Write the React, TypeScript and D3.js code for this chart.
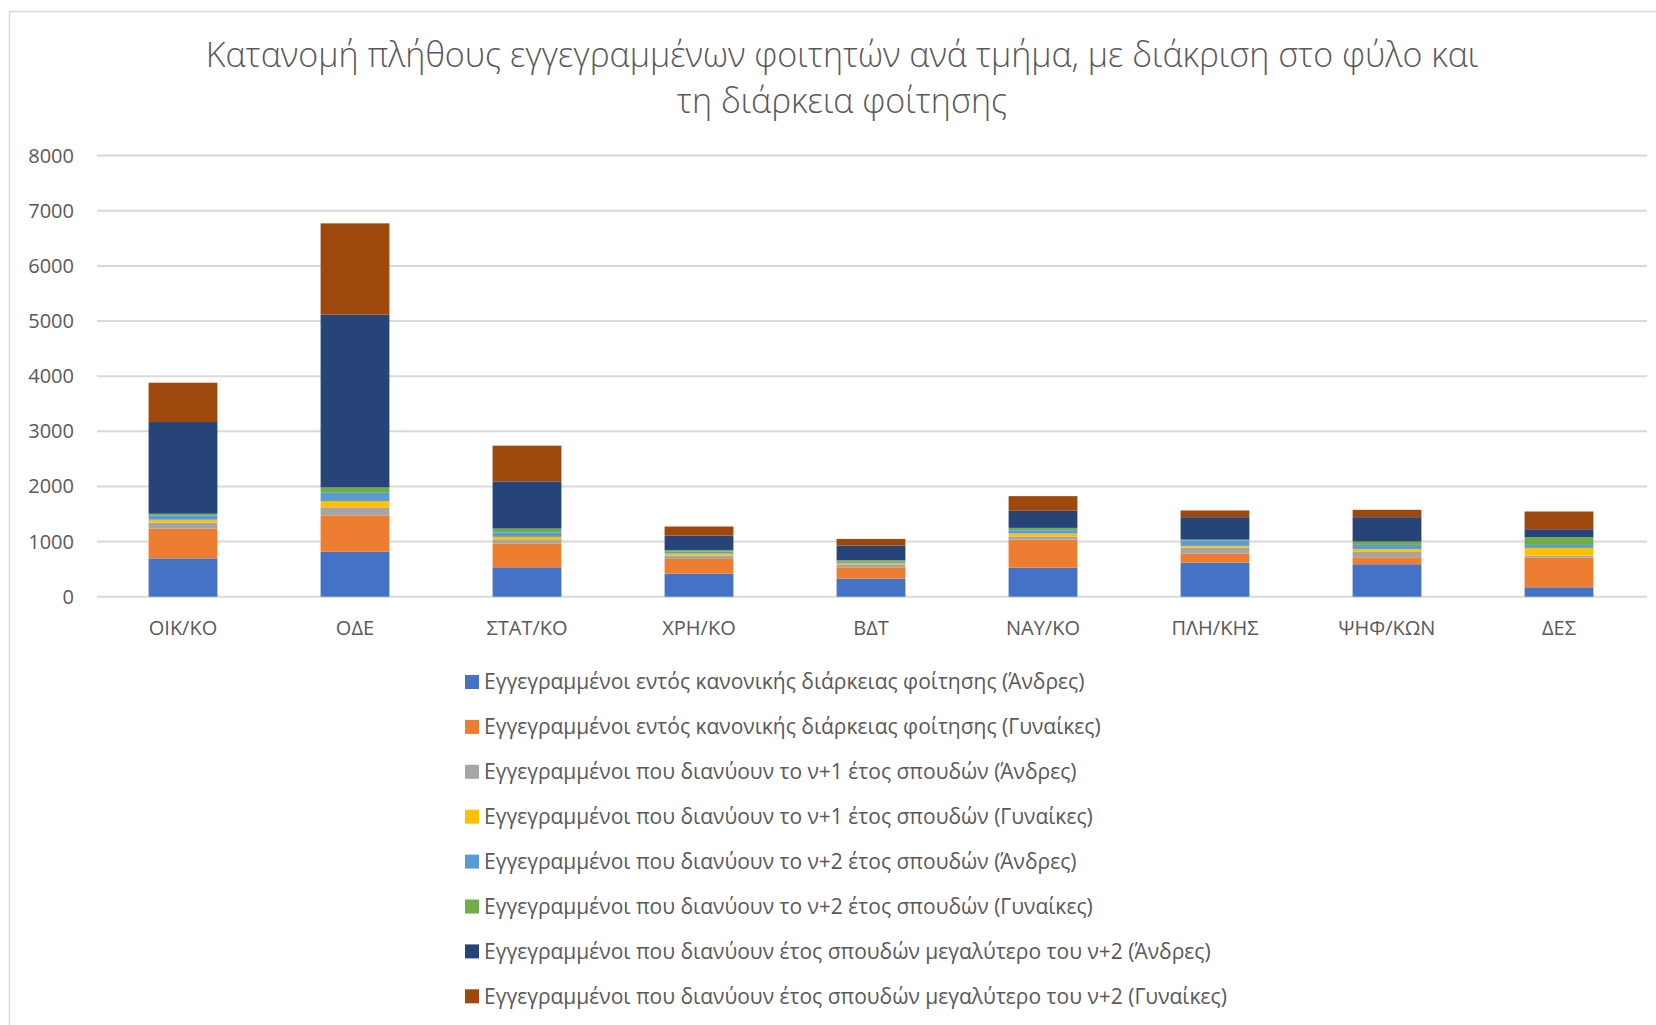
import { useEffect, useRef } from "react";
import * as d3 from "d3";

const categories = ["ΟΙΚ/ΚΟ", "ΟΔΕ", "ΣΤΑΤ/ΚΟ", "ΧΡΗ/ΚΟ", "ΒΔΤ", "ΝΑΥ/ΚΟ", "ΠΛΗ/ΚΗΣ", "ΨΗΦ/ΚΩΝ", "ΔΕΣ"];

const regularMen = [695, 816, 533, 418, 327, 527, 618, 588, 170];
const regularWomen = [538, 659, 431, 267, 206, 509, 164, 127, 539];
const n1Men = [109, 145, 66, 60, 55, 55, 109, 97, 36];
const n1Women = [55, 115, 55, 37, 24, 54, 30, 49, 140];
const n2Men = [78, 151, 79, 36, 24, 61, 97, 78, 54];
const n2Women = [30, 97, 72, 30, 25, 42, 18, 61, 140];
const beyondMen = [1663, 3132, 855, 261, 266, 310, 406, 442, 145];
const beyondWomen = [713, 1656, 648, 164, 121, 266, 122, 134, 321];

const seriesNames = [
  "Εγγεγραμμένοι εντός κανονικής διάρκειας φοίτησης (Άνδρες)",
  "Εγγεγραμμένοι εντός κανονικής διάρκειας φοίτησης (Γυναίκες)",
  "Εγγεγραμμένοι που διανύουν το ν+1 έτος σπουδών (Άνδρες)",
  "Εγγεγραμμένοι που διανύουν το ν+1 έτος σπουδών (Γυναίκες)",
  "Εγγεγραμμένοι που διανύουν το ν+2 έτος σπουδών (Άνδρες)",
  "Εγγεγραμμένοι που διανύουν το ν+2 έτος σπουδών (Γυναίκες)",
  "Εγγεγραμμένοι που διανύουν έτος σπουδών μεγαλύτερο του ν+2 (Άνδρες)",
  "Εγγεγραμμένοι που διανύουν έτος σπουδών μεγαλύτερο του ν+2 (Γυναίκες)",
];

const seriesValues = [regularMen, regularWomen, n1Men, n1Women, n2Men, n2Women, beyondMen, beyondWomen];

const colors = ["#4472C4", "#ED7D31", "#A5A5A5", "#FFC000", "#5B9BD5", "#70AD47", "#264478", "#9E480E"];

const yTicks = [0, 1000, 2000, 3000, 4000, 5000, 6000, 7000, 8000];

const titleLines = [
  "Κατανομή πλήθους εγγεγραμμένων φοιτητών ανά τμήμα, με διάκριση στο φύλο και",
  "τη διάρκεια φοίτησης",
];

export default function App() {
  const ref = useRef<SVGSVGElement | null>(null);

  useEffect(() => {
    if (!ref.current) return;

    const width = 1656;
    const height = 1025;
    const margin = { top: 155.6, right: 11, bottom: 428.3, left: 97 };
    const font = "'Open Sans', sans-serif";
    const textColor = "#595959";

    const svg = d3.select(ref.current);
    svg.selectAll("*").remove();
    svg.attr("viewBox", `0 0 ${width} ${height}`);

    svg.append("rect").attr("width", width).attr("height", height).attr("fill", "#fff");

    // chart border (only top and left visible)
    svg
      .append("path")
      .attr("d", `M9.5,${height} V11.5 H${width}`)
      .attr("fill", "none")
      .attr("stroke", "#d9d9d9")
      .attr("stroke-width", 1.5);

    const x = d3
      .scaleBand<string>()
      .domain(categories)
      .range([margin.left, width - margin.right])
      .paddingInner(0.6)
      .paddingOuter(0.3);

    const y = d3.scaleLinear().domain([0, 8000]).range([height - margin.bottom, margin.top]);

    // gridlines
    svg
      .append("g")
      .selectAll("line")
      .data(yTicks)
      .join("line")
      .attr("x1", margin.left)
      .attr("x2", width - margin.right + 2)
      .attr("y1", (d) => y(d))
      .attr("y2", (d) => y(d))
      .attr("stroke", "#d9d9d9")
      .attr("stroke-width", 2);

    // y tick labels
    svg
      .append("g")
      .selectAll("text")
      .data(yTicks)
      .join("text")
      .attr("x", 74)
      .attr("y", (d) => y(d))
      .attr("dy", "0.35em")
      .attr("text-anchor", "end")
      .attr("font-family", font)
      .attr("font-size", 20)
      .attr("fill", textColor)
      .text((d) => d.toString());

    // stacked bars
    const table = categories.map((c, i) => {
      const row: Record<string, number | string> = { category: c };
      seriesNames.forEach((s, j) => {
        row[s] = seriesValues[j][i];
      });
      return row;
    });

    const stack = d3.stack<Record<string, number | string>>().keys(seriesNames);
    const layers = stack(table as any);

    svg
      .append("g")
      .selectAll("g")
      .data(layers)
      .join("g")
      .attr("fill", (_, i) => colors[i])
      .selectAll("rect")
      .data((d) => d)
      .join("rect")
      .attr("x", (d) => x(d.data.category as string) ?? 0)
      .attr("width", x.bandwidth())
      .attr("y", (d) => y(d[1]))
      .attr("height", (d) => y(d[0]) - y(d[1]));

    // category labels
    svg
      .append("g")
      .selectAll("text")
      .data(categories)
      .join("text")
      .attr("x", (d) => (x(d) ?? 0) + x.bandwidth() / 2)
      .attr("y", 628)
      .attr("dy", "0.35em")
      .attr("text-anchor", "middle")
      .attr("font-family", font)
      .attr("font-size", 20)
      .attr("fill", textColor)
      .text((d) => d);

    // title
    svg
      .append("g")
      .selectAll("text")
      .data(titleLines)
      .join("text")
      .attr("x", 842)
      .attr("y", (_, i) => 55 + i * 46)
      .attr("dy", "0.35em")
      .attr("text-anchor", "middle")
      .attr("font-family", font)
      .attr("font-weight", 300)
      .attr("font-size", 34)
      .attr("fill", textColor)
      .text((d) => d);

    // legend
    const legend = svg
      .append("g")
      .selectAll("g")
      .data(seriesNames)
      .join("g")
      .attr("transform", (_, i) => `translate(465,${682 + i * 44.9})`);

    legend
      .append("rect")
      .attr("x", 0)
      .attr("y", -7)
      .attr("width", 14)
      .attr("height", 14)
      .attr("fill", (_, i) => colors[i]);

    legend
      .append("text")
      .attr("x", 19)
      .attr("y", 0)
      .attr("dy", "0.35em")
      .attr("font-family", font)
      .attr("font-size", 21)
      .attr("fill", textColor)
      .text((d) => d);
  }, []);

  return (
    <svg
      ref={ref}
      width={1656}
      height={1025}
      role="img"
      aria-label="Stacked bar chart of enrolled students per department"
      style={{ position: "absolute", top: 0, left: 0, display: "block" }}
    />
  );
}
